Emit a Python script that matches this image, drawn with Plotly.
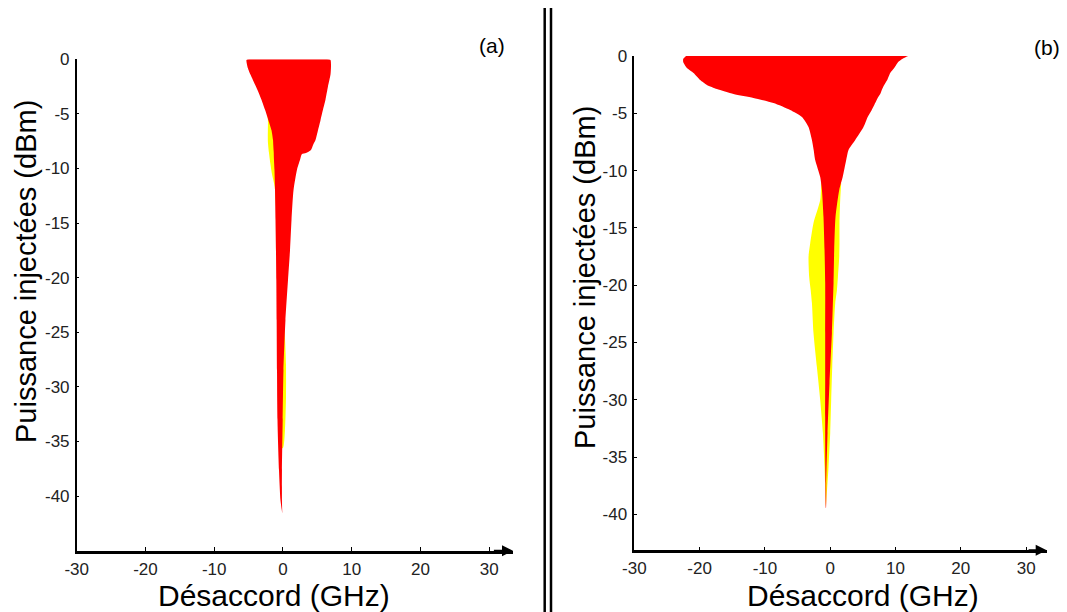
import plotly.graph_objects as go

# ---------------- Panel (a) ----------------
red_a_power = [0.0, -0.06, -0.7, -1.4, -2.5, -3.7, -4.6, -5.6, -6.5, -7.4, -7.86, -8.3, -8.58,
               -8.67, -9.23, -10.1, -12.0, -14.7, -17.5, -20.2, -23.9, -28.5, -33.0, -37.6, -40.4, -41.6]
red_a_left = [-4.94, -5.31, -5.16, -4.73, -3.93, -3.13, -2.62, -2.11, -1.67, -1.45, -1.41, -1.37, -1.34,
              -1.34, -1.31, -1.24, -1.16, -1.09, -1.02, -0.97, -0.92, -0.87, -0.80, -0.58, -0.36, -0.10]
red_a_right = [6.40, 6.91, 6.98, 6.91, 6.54, 6.18, 5.82, 5.45, 5.09, 4.73, 4.36, 4.07, 3.34,
               2.76, 2.47, 2.04, 1.53, 1.24, 1.02, 0.73, 0.36, 0.07, -0.04, -0.15, -0.15, -0.10]

yel_a_power = [-4.8, -5.5, -6.5, -7.5, -8.5, -9.5, -10.5, -11.7, -15.0, -20.0, -23.5, -25.5, -28.0, -31.0, -34.0, -35.6]
yel_a_left = [-2.4, -2.2, -2.2, -2.2, -2.05, -1.85, -1.6, -1.2, -0.9, -0.8, -0.7, -0.7, -0.6, -0.6, -0.5, -0.4]
yel_a_right = [1.0, 1.0, 1.0, 1.0, 1.0, 1.0, 1.0, 1.0, 0.8, 0.5, 0.1, 0.29, 0.44, 0.44, 0.29, 0.0]

# ---------------- Panel (b) ----------------
red_b_power = [0.31, 0.17, 0.0, -0.26, -0.52, -1.05, -1.48, -2.09, -2.53, -2.88, -3.32, -3.66, -4.10,
               -4.71, -5.32, -6.20, -7.33, -8.20, -9.08, -10.56, -11.69, -14.05, -16.93, -19.81,
               -24.17, -28.53, -32.90, -37.26, -39.44]
red_b_left = [-18.38, -20.98, -22.05, -22.51, -22.51, -21.94, -20.93, -19.91, -18.88, -17.35, -14.81,
              -11.75, -8.68, -6.13, -4.33, -3.32, -2.80, -2.53, -2.30, -1.53, -1.27, -1.03, -0.87,
              -0.77, -0.77, -0.77, -0.77, -0.72, -0.66]
red_b_right = [13.94, 13.17, 11.94, 11.03, 10.41, 9.80, 9.19, 8.73, 8.27, 7.96, 7.66, 7.27, 6.89,
               6.36, 5.74, 5.10, 3.83, 2.80, 2.45, 1.91, 1.38, 0.81, 0.61, 0.51, 0.26, -0.11,
               -0.41, -0.61, -0.64]

yel_b_power = [-11.08, -12.57, -14.57, -16.32, -17.54, -19.28, -20.42, -21.55, -24.17, -27.14,
               -30.02, -32.90, -35.86, -39.44]
yel_b_left = [-1.38, -1.53, -2.56, -3.06, -3.32, -3.22, -2.99, -2.80, -2.56, -2.04, -1.53, -1.12, -0.87, -0.66]
yel_b_right = [1.68, 1.53, 1.42, 1.42, 1.38, 1.18, 1.03, 0.77, 0.51, 0.31, 0.15, 0.0, -0.26, -0.66]

x_ticks = [-30, -20, -10, 0, 10, 20, 30]
y_ticks_a = [0, -5, -10, -15, -20, -25, -30, -35, -40]
y_ticks_b = [0, -5, -10, -15, -20, -25, -30, -35, -40]
x_title = "Désaccord (GHz)"
y_title = "Puissance injectées (dBm)"
panel_labels = ["(a)", "(b)"]

RED = "#FF0000"
YELLOW = "#FFFF00"

W, H = 1067, 612
OFF = 8  # page body margin offset


def px(x):
    return (x - OFF) / W


def py(y):
    return (H - (y - OFF)) / H


def band(power, left, right, color, xa, ya):
    xs = list(left) + list(reversed(right))
    ys = list(power) + list(reversed(power))
    return go.Scatter(x=xs, y=ys, mode="lines", fill="toself", fillcolor=color,
                      line=dict(width=0, color=color, shape="spline", smoothing=0.6),
                      xaxis=xa, yaxis=ya, hoverinfo="skip", showlegend=False)


fig = go.Figure()
fig.add_trace(band(yel_a_power, yel_a_left, yel_a_right, YELLOW, "x", "y"))
fig.add_trace(band(red_a_power, red_a_left, red_a_right, RED, "x", "y"))
fig.add_trace(band(yel_b_power, yel_b_left, yel_b_right, YELLOW, "x2", "y2"))
fig.add_trace(band(red_b_power, red_b_left, red_b_right, RED, "x2", "y2"))

tick_font = dict(family="Liberation Sans Narrow, Arial Narrow, Liberation Sans, Arial", size=17, color="#222222")
x_title_font = dict(family="Liberation Sans, Arial, sans-serif", size=30, color="black")
y_title_font = dict(family="Liberation Sans, Arial, sans-serif", size=29, color="black")


def xaxis(domain, rng, anchor):
    return dict(domain=domain, range=rng, anchor=anchor, tickvals=x_ticks, automargin=False,
                ticktext=[str(v) for v in x_ticks], ticks="inside", ticklen=4, tickwidth=1.2,
                tickcolor="black", showline=True, linewidth=2.5, linecolor="black",
                showgrid=False, zeroline=False, tickfont=tick_font, fixedrange=True,
                ticklabelstandoff=1)


def yaxis(domain, rng, anchor, ticks):
    return dict(domain=domain, range=rng, anchor=anchor, tickvals=ticks, automargin=False,
                ticktext=[str(v) for v in ticks], ticks="inside", ticklen=3, tickwidth=1.2,
                tickcolor="black", showline=True, linewidth=1.5, linecolor="black",
                showgrid=False, zeroline=False, tickfont=tick_font, fixedrange=True,
                ticklabelstandoff=2)


ax_a_x = [-30, 33.45]
ax_a_y = [-45, 0]
ax_b_x = [-30, 33.15]
ax_b_y = [-43.14, 0]

fig.update_layout(
    template="none",
    width=W, height=H,
    margin=dict(l=0, r=0, t=0, b=0, pad=0, autoexpand=False),
    paper_bgcolor="white", plot_bgcolor="white",
    showlegend=False,
    xaxis=xaxis([px(76.7), px(513)], ax_a_x, "y"),
    yaxis=yaxis([py(550.7), py(59.3)], ax_a_y, "x", y_ticks_a),
    xaxis2=xaxis([px(634.3), px(1046.7)], ax_b_x, "y2"),
    yaxis2=yaxis([py(550.3), py(56)], ax_b_y, "x2", y_ticks_b),
)

annotations = []
# axis arrows
for xa, ya, xr, yr in [("x", "y", ax_a_x, ax_a_y), ("x2", "y2", ax_b_x, ax_b_y)]:
    annotations.append(dict(x=xr[1], y=yr[0], ax=xr[1] - 3, ay=yr[0], xref=xa, yref=ya,
                            axref=xa, ayref=ya, text="", showarrow=True, arrowhead=2,
                            arrowsize=1.1, arrowwidth=2, arrowcolor="black", standoff=0))
# axis titles
annotations.append(dict(x=px(274), y=py(595), xref="paper", yref="paper", text=x_title,
                        showarrow=False, font=x_title_font, xanchor="center", yanchor="middle"))
annotations.append(dict(x=px(863), y=py(595), xref="paper", yref="paper", text=x_title,
                        showarrow=False, font=x_title_font, xanchor="center", yanchor="middle"))
annotations.append(dict(x=px(26), y=py(272), xref="paper", yref="paper", text=y_title,
                        textangle=-90, showarrow=False, font=y_title_font, xanchor="center", yanchor="middle"))
annotations.append(dict(x=px(585), y=py(278), xref="paper", yref="paper", text=y_title,
                        textangle=-90, showarrow=False, font=y_title_font, xanchor="center", yanchor="middle"))
# panel labels
label_font = dict(family="Liberation Sans, Arial, sans-serif", size=21, color="black")
annotations.append(dict(x=px(492), y=py(45), xref="paper", yref="paper", text=panel_labels[0],
                        showarrow=False, font=label_font, xanchor="center", yanchor="middle"))
annotations.append(dict(x=px(1047), y=py(47), xref="paper", yref="paper", text=panel_labels[1],
                        showarrow=False, font=label_font, xanchor="center", yanchor="middle"))
fig.update_layout(annotations=annotations)

# double separator line
shapes = [
    dict(type="line", xref="paper", yref="paper", x0=px(544.7), x1=px(544.7), y0=0, y1=1,
         line=dict(color="black", width=2.5)),
    dict(type="line", xref="paper", yref="paper", x0=px(551), x1=px(551), y0=0, y1=1,
         line=dict(color="black", width=2.5)),
]
fig.update_layout(shapes=shapes)

fig.write_html("out.html")
